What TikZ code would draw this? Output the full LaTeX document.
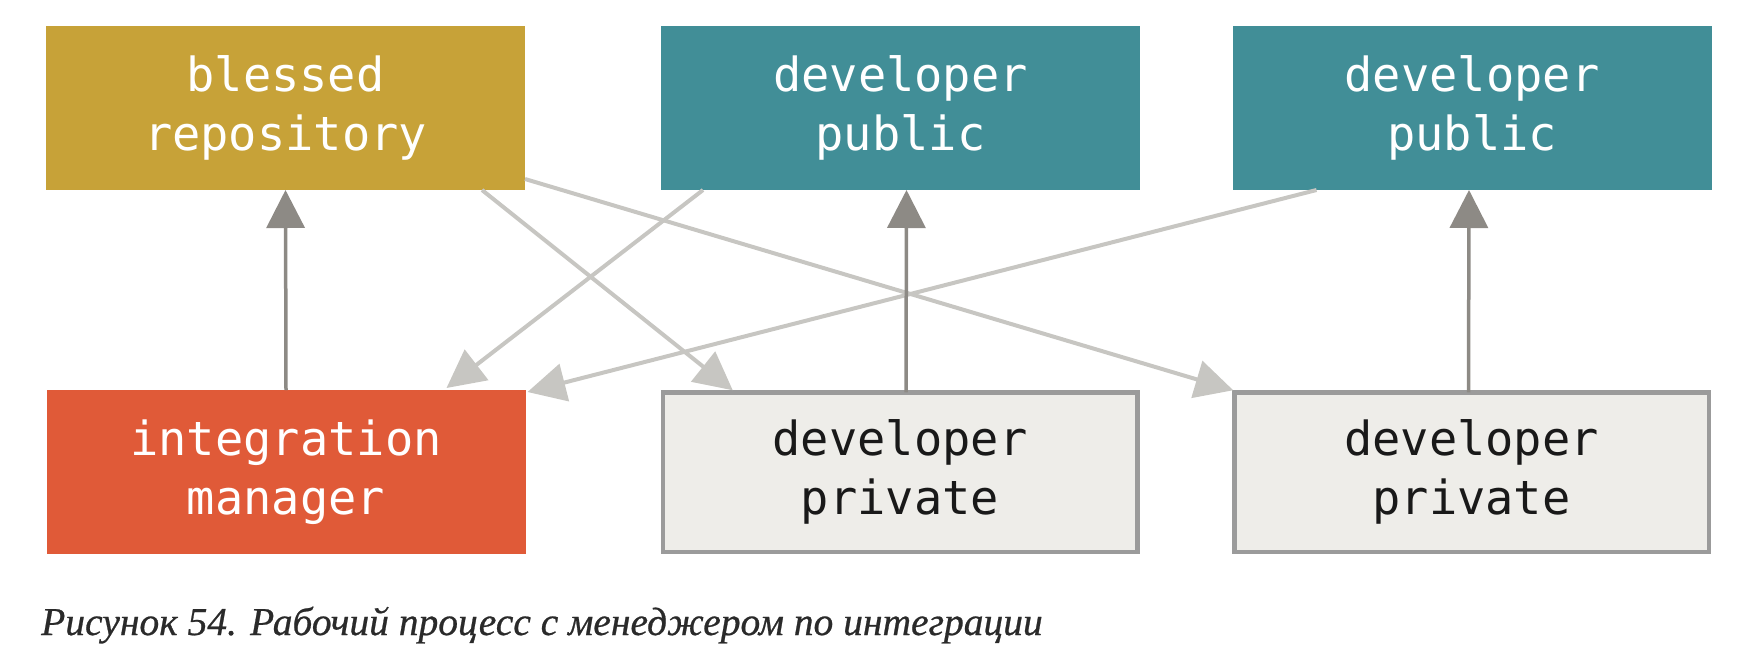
\documentclass[tikz,border=0pt]{standalone}
\usepackage{fontspec}
\setmainfont{Liberation Serif}
\newfontfamily\capfont{Liberation Serif}[FakeBold=0.6]
\newfontfamily\boxmono{DejaVu Sans Mono}
\usetikzlibrary{arrows.meta,calc}
\definecolor{gold}{HTML}{C7A238}
\definecolor{teal}{HTML}{418E97}
\definecolor{redorange}{HTML}{E05A38}
\definecolor{privfill}{HTML}{EEEDE9}
\definecolor{privborder}{HTML}{9B9B9B}
\definecolor{darkarrow}{HTML}{8D8A85}
\definecolor{lightarrow}{HTML}{C7C6C2}
\definecolor{captext}{HTML}{2A2A2A}
\begin{document}
\begin{tikzpicture}[x=1pt,y=-1pt,
  repo/.style={minimum width=479pt,minimum height=164pt,inner sep=0pt,outer sep=0pt,
    align=center,font=\boxmono\fontsize{47}{59}\selectfont},
  filledbox/.style={repo,text=white},
  privbox/.style={repo,minimum width=474.5pt,minimum height=159.5pt,fill=privfill,
    draw=privborder,line width=4.5pt,text=black!90},
  darrow/.style={draw=darkarrow,fill=darkarrow,line width=3.5pt,-{Triangle[width=38pt,length=38pt]}},
  larrow/.style={draw=lightarrow,fill=lightarrow,line width=4pt,-{Triangle[width=38pt,length=38pt]}},
  caption/.style={anchor=base west,inner sep=0pt,text=captext,font=\capfont\itshape\fontsize{39.5}{44}\selectfont}]
\useasboundingbox (0,0) rectangle (1758,662);
\node[filledbox,fill=gold] (blessed) at (285.5,108) {blessed\\repository};
\node[filledbox,fill=teal] (pub1) at (900.5,108) {developer\\public};
\node[filledbox,fill=teal] (pub2) at (1472,108) {developer\\public};
\node[filledbox,fill=redorange] (manager) at (286,472) {integration\\manager};
\node[privbox] (priv1) at (900,472) {developer\\private};
\node[privbox] (priv2) at (1471.5,472) {developer\\private};
\node[caption] (cap) at (41,635) {Рисунок 54. Рабочий процесс с менеджером по интеграции};
% light diagonal arrows
\draw[larrow] ($(blessed.south west)+(436,0)$) -- ($(priv1.north west)+(70,-2)$);
\draw[larrow] ($(blessed.north east)+(0,153)$) -- ($(priv2.north west)+(-1,-2)$);
\draw[larrow] ($(pub1.south west)+(42,0)$) -- ($(manager.north west)+(400,-2)$);
\draw[larrow] ($(pub2.south west)+(84,0)$) -- ($(manager.north east)+(2,2)$);
% dark vertical arrows
\draw[darrow] (manager.north) -- (blessed.south);
\draw[darrow] ($(priv1.north)+(6,0)$) -- ($(pub1.south)+(6,0)$);
\draw[darrow] ($(priv2.north)+(-3,0)$) -- ($(pub2.south)+(-3,0)$);
\end{tikzpicture}
\end{document}
